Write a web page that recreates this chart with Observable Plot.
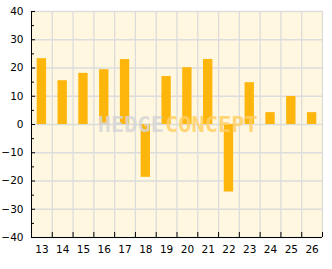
<!DOCTYPE html>
<html>
<head>
<meta charset="utf-8">
<script src="https://cdn.jsdelivr.net/npm/d3@7"></script>
<script src="https://cdn.jsdelivr.net/npm/@observablehq/plot@0.6"></script>
<style>
  html, body { margin: 0; padding: 0; background: #ffffff; }
</style>
</head>
<body>
<div id="chart"></div>
<script>
const categories = [13, 14, 15, 16, 17, 18, 19, 20, 21, 22, 23, 24, 25, 26];
const values = [23.3, 15.5, 18.1, 19.4, 23.0, -18.7, 17.0, 20.1, 23.0, -23.9, 14.8, 4.2, 9.9, 4.2];
const yTicks = [-40, -30, -20, -10, 0, 10, 20, 30, 40];
const yMinorTicks = [-35, -25, -15, -5, 5, 15, 25, 35];
const xBoundaries = [12.5, 13.5, 14.5, 15.5, 16.5, 17.5, 18.5, 19.5, 20.5, 21.5, 22.5, 23.5, 24.5, 25.5, 26.5];
const watermark = ["HEDGE", "CONCEPT"];

const data = categories.map((c, i) => ({cat: c, value: values[i]}));
const half = 0.225;

const chart = Plot.plot({
  width: 332,
  height: 269,
  marginLeft: 31,
  marginRight: 10,
  marginTop: 11,
  marginBottom: 32,
  style: {background: "#ffffff", fontFamily: "DejaVu Sans, sans-serif", fontSize: "10.5px", color: "#000"},
  x: {domain: [12.5, 26.5], label: null},
  y: {domain: [-40, 40], label: null},
  marks: [
    Plot.frame({fill: "#fff7df", stroke: null}),
    Plot.gridY(yTicks, {stroke: "#dcdcdc", strokeOpacity: 1, strokeWidth: 1.3}),
    Plot.gridX(xBoundaries, {stroke: "#dcdcdc", strokeOpacity: 1, strokeWidth: 1.3}),
    Plot.rectY(data, {x1: d => d.cat - half, x2: d => d.cat + half, y: "value", fill: "#ffb60c"}),
    Plot.text([watermark[0]], {frameAnchor: "middle", textAnchor: "end", dx: -13, dy: 0, text: d => d, fill: "#d6d6d6", fillOpacity: 0.85, fontWeight: "bold", fontSize: 22, fontFamily: "DejaVu Sans Mono, monospace"}),
    Plot.text([watermark[1]], {frameAnchor: "middle", textAnchor: "start", dx: -12, dy: 0, text: d => d, fill: "#ffcf66", fillOpacity: 0.85, fontWeight: "bold", fontSize: 22, fontFamily: "DejaVu Sans Mono, monospace"}),
    Plot.axisY(yTicks, {tickSize: -4, tickPadding: 12, label: null}),
    Plot.axisY(yMinorTicks, {tickSize: -3, tickFormat: () => "", label: null}),
    Plot.axisX(categories, {tickSize: 0, tickPadding: 8, label: null}),
    Plot.axisX(xBoundaries, {tickSize: -5, tickFormat: () => "", label: null}),
    Plot.ruleX([12.5], {stroke: "#000"}),
    Plot.ruleY([-40], {stroke: "#000"})
  ]
});
document.getElementById("chart").appendChild(chart);
</script>
</body>
</html>
